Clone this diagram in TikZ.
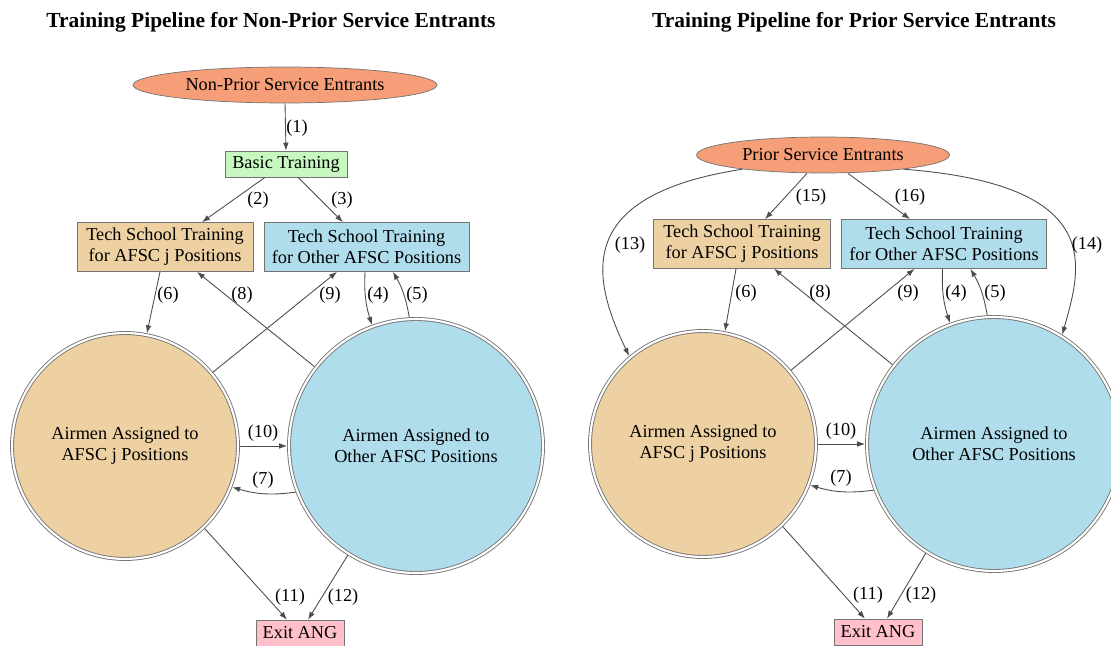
\documentclass[tikz,border=0pt]{standalone}
\usepackage{fontspec}
\setmainfont{Liberation Serif}
\usetikzlibrary{shapes.geometric,arrows.meta}

\definecolor{salmonc}{RGB}{246,158,120}
\definecolor{greenc}{RGB}{198,248,192}
\definecolor{tanc}{RGB}{238,209,162}
\definecolor{bluec}{RGB}{176,221,236}
\definecolor{pinkc}{RGB}{255,192,203}

\tikzset{
  entrant/.style={ellipse, draw=black!55, fill=salmonc, inner sep=0pt, minimum height=0.72cm},
  box/.style={rectangle, draw=black!55, inner sep=0pt, align=center},
  pool/.style={circle, draw=black!55, line width=0.5pt, double=white, double distance=1.2pt, outer sep=1.1pt, inner sep=0pt, align=center},
  flow/.style={draw=black!70, line width=0.5pt, -{Latex[length=4.5pt,width=3.2pt]}},
  lbl/.style={inner sep=0pt},
  heading/.style={font=\bfseries\fontsize{12.2}{14}\selectfont}
}

\begin{document}
\begin{tikzpicture}[x=0.02cm, y=-0.02cm, every node/.append style={font=\fontsize{10.4}{12}\selectfont}]
\useasboundingbox (0,0) rectangle (1111,645);
\clip (0,0) rectangle (1111,645);

% left: non-prior service
\node[heading] (tL) at (271,22) {Training Pipeline for Non-Prior Service Entrants};
\node[entrant, minimum width=6.08cm] (nps) at (285,85) {Non-Prior Service Entrants};
\node[box, fill=greenc, minimum width=2.44cm, minimum height=0.52cm] (basic) at (286,164) {Basic Training};
\node[box, fill=tanc, minimum width=3.52cm, minimum height=0.98cm] (tjL) at (165,247) {Tech School Training\\for AFSC j Positions};
\node[box, fill=bluec, minimum width=4.1cm, minimum height=0.98cm] (toL) at (366.5,247) {Tech School Training\\for Other AFSC Positions};
\node[pool, fill=tanc, minimum size=4.52cm] (ajL) at (125,446) {Airmen Assigned to\\AFSC j Positions};
\node[pool, fill=bluec, minimum size=5.08cm] (aoL) at (416,446) {Airmen Assigned to\\Other AFSC Positions};
\node[box, fill=pinkc, minimum width=1.76cm, minimum height=0.52cm] (exL) at (300,633) {Exit ANG};

\draw[flow] (nps.south) -- (basic.north) node[lbl] (l1) at (297,128) {(1)};
\draw[flow] ([xshift=-0.42cm]basic.south) -- ([xshift=0.74cm]tjL.north) node[lbl] (l2) at (258,200) {(2)};
\draw[flow] ([xshift=0.24cm]basic.south) -- ([xshift=-0.47cm]toL.north) node[lbl] (l3) at (342,200) {(3)};
\draw[flow] ([xshift=-0.1cm]tjL.south) -- (ajL.79) node[lbl] (l6) at (168,295) {(6)};
\draw[flow] (aoL.142) -- ([xshift=0.64cm]tjL.south) node[lbl] (l8) at (242,295) {(8)};
\draw[flow] (ajL.40) -- ([xshift=-0.59cm]toL.south) node[lbl] (l9) at (330,295) {(9)};
\draw[flow] ([xshift=-0.03cm]toL.south) to[bend right=10] (aoL.110) node[lbl] (l4) at (378,295) {(4)};
\draw[flow] (aoL.93) to[bend right=10] ([xshift=0.53cm]toL.south) node[lbl] (l5) at (417,295) {(5)};
\draw[flow] (ajL.0) -- (aoL.180) node[lbl] (l10) at (263,433) {(10)};
\draw[flow] (aoL.201) to[bend left=12] (ajL.-21) node[lbl] (l7) at (263,480) {(7)};
\draw[flow] (ajL.-46) -- ([xshift=-0.26cm]exL.north) node[lbl] (l11) at (290,597) {(11)};
\draw[flow] (aoL.238) -- ([xshift=0.16cm]exL.north) node[lbl] (l12) at (343,597) {(12)};

% right: prior service
\node[heading] (tR) at (854,22) {Training Pipeline for Prior Service Entrants};
\node[entrant, minimum width=5.06cm] (pse) at (823,155) {Prior Service Entrants};
\node[box, fill=tanc, minimum width=3.54cm, minimum height=0.98cm] (tjR) at (742,244) {Tech School Training\\for AFSC j Positions};
\node[box, fill=bluec, minimum width=4.1cm, minimum height=0.98cm] (toR) at (944,244) {Tech School Training\\for Other AFSC Positions};
\node[pool, fill=tanc, minimum size=4.52cm] (ajR) at (703,444) {Airmen Assigned to\\AFSC j Positions};
\node[pool, fill=bluec, minimum size=5.08cm] (aoR) at (994,444) {Airmen Assigned to\\Other AFSC Positions};
\node[box, fill=pinkc, minimum width=1.76cm, minimum height=0.52cm] (exR) at (878,632) {Exit ANG};

\draw[flow] ([xshift=-0.32cm]pse.south) -- ([xshift=0.46cm]tjR.north) node[lbl] (r15) at (811,197) {(15)};
\draw[flow] ([xshift=0.5cm]pse.south) -- ([xshift=-0.68cm]toR.north) node[lbl] (r16) at (910,197) {(16)};
\draw[flow] (pse.190) .. controls (575,195) and (590,275) .. (ajR.130) node[lbl] (r13) at (630,245) {(13)};
\draw[flow] (pse.-10) .. controls (1110,185) and (1080,270) .. (aoR.58) node[lbl] (r14) at (1087,245) {(14)};
\draw[flow] ([xshift=-0.12cm]tjR.south) -- (ajR.79) node[lbl] (r6) at (746,293) {(6)};
\draw[flow] (aoR.142) -- ([xshift=0.64cm]tjR.south) node[lbl] (r8) at (820,293) {(8)};
\draw[flow] (ajR.40) -- ([xshift=-0.59cm]toR.south) node[lbl] (r9) at (908,293) {(9)};
\draw[flow] ([xshift=-0.03cm]toR.south) to[bend right=10] (aoR.110) node[lbl] (r4) at (956,293) {(4)};
\draw[flow] (aoR.93) to[bend right=10] ([xshift=0.53cm]toR.south) node[lbl] (r5) at (995,293) {(5)};
\draw[flow] (ajR.0) -- (aoR.180) node[lbl] (r10) at (841,431) {(10)};
\draw[flow] (aoR.201) to[bend left=12] (ajR.-21) node[lbl] (r7) at (841,478) {(7)};
\draw[flow] (ajR.-46) -- ([xshift=-0.26cm]exR.north) node[lbl] (r11) at (868,595) {(11)};
\draw[flow] (aoR.238) -- ([xshift=0.18cm]exR.north) node[lbl] (r12) at (921,595) {(12)};
\end{tikzpicture}
\end{document}
